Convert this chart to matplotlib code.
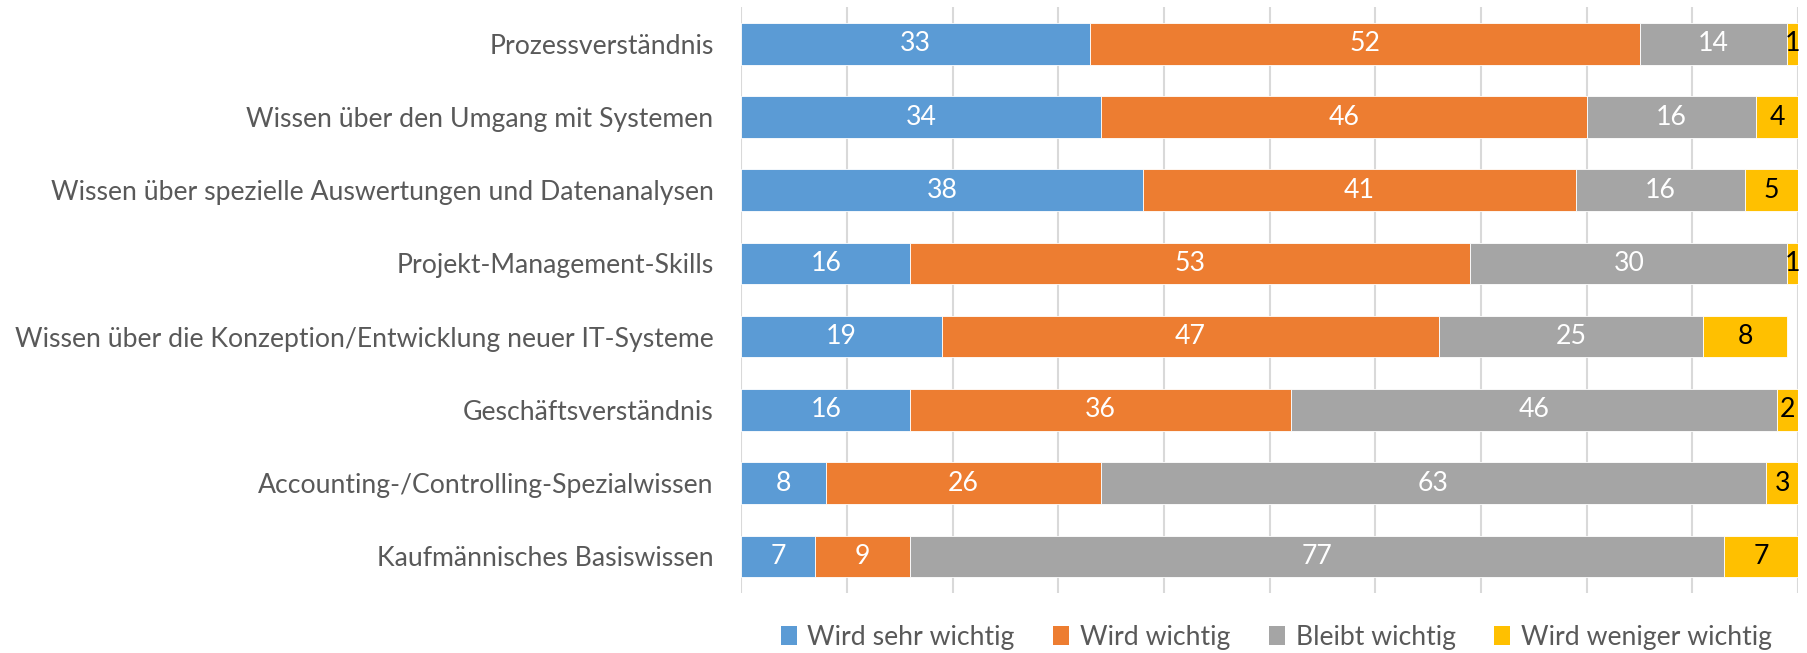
import numpy as np
import matplotlib
matplotlib.use("Agg")
import matplotlib.pyplot as plt
from matplotlib.patches import Patch

# data (percent)
categories = [
    "Prozessverständnis",
    "Wissen über den Umgang mit Systemen",
    "Wissen über spezielle Auswertungen und Datenanalysen",
    "Projekt-Management-Skills",
    "Wissen über die Konzeption/Entwicklung neuer IT-Systeme",
    "Geschäftsverständnis",
    "Accounting-/Controlling-Spezialwissen",
    "Kaufmännisches Basiswissen",
]
series_names = ["Wird sehr wichtig", "Wird wichtig", "Bleibt wichtig", "Wird weniger wichtig"]
sehr_wichtig = [33, 34, 38, 16, 19, 16, 8, 7]
wichtig = [52, 46, 41, 53, 47, 36, 26, 9]
bleibt = [14, 16, 16, 30, 25, 46, 63, 77]
weniger = [1, 4, 5, 1, 8, 2, 3, 7]

colors = ["#5B9BD5", "#ED7D31", "#A5A5A5", "#FFC000"]
label_colors = ["white", "white", "white", "black"]

plt.rcParams['font.family'] = ['Lato', 'DejaVu Sans']
fs = 19.2

fig = plt.figure(figsize=(18.08, 6.53), dpi=100)
ax = fig.add_axes([0.41, 0.092, 0.5845, 0.897])

y = np.arange(len(categories))
left = np.zeros(len(categories))
for vals, name, c, lc in zip([sehr_wichtig, wichtig, bleibt, weniger], series_names, colors, label_colors):
    vals = np.array(vals, dtype=float)
    ax.barh(y, vals, left=left, height=0.567, color=c, edgecolor="white",
            linewidth=0.6, zorder=3, label=name)
    for yi, l, v in zip(y, left, vals):
        ax.text(l + v / 2, yi, f"{int(v)}", ha="center", va="center",
                color=lc, fontsize=fs, zorder=4)
    left += vals

ax.set_xlim(0, 100)
ax.set_ylim(len(categories) - 0.5, -0.5)
ax.set_xticks(np.arange(0, 101, 10))
ax.set_xticklabels([])
ax.tick_params(axis="x", length=0)
ax.grid(axis="x", color="#D9D9D9", linewidth=1.5, zorder=0)
ax.set_yticks(y)
ax.set_yticklabels(categories, fontsize=fs, color="#595959")
ax.tick_params(axis="y", length=0, pad=20)
for s in ax.spines.values():
    s.set_visible(False)

handles = [Patch(facecolor=c, label=n) for c, n in zip(colors, series_names)]
fig.legend(handles=handles, loc="center", bbox_to_anchor=(0.706, 0.024), ncol=4,
           frameon=False, fontsize=fs, labelcolor="#595959",
           handlelength=0.6, handleheight=0.7, handletextpad=0.4, columnspacing=1.45)

fig.savefig("out.png", dpi=100)
